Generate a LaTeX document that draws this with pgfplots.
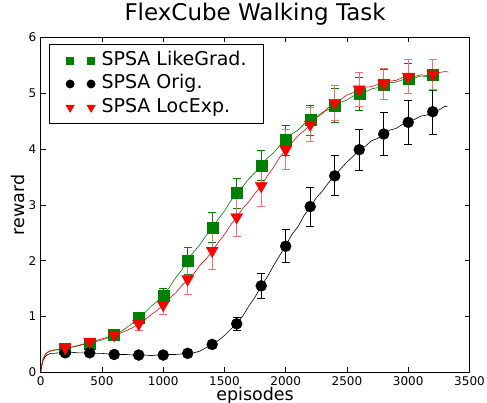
\documentclass[border=0pt]{standalone}
\usepackage{fontspec}
\setmainfont{DejaVu Sans}
\usepackage{pgfplots}
\pgfplotsset{compat=1.18}
\usetikzlibrary{calc}

\definecolor{mgreen}{RGB}{0,128,0}
\definecolor{mred}{RGB}{255,0,0}
\definecolor{lred}{RGB}{255,110,110}

\begin{document}
\begin{tikzpicture}
\begin{axis}[
  scale only axis, width=429pt, height=335pt,
  xmin=0, xmax=3500, ymin=0, ymax=6,
  xtick={0,500,...,3500}, ytick={0,1,...,6},
  /pgf/number format/1000 sep={},
  /pgf/number format/assume math mode=true,
  tick label style={font=\fontsize{12}{14}\selectfont},
  xticklabel style={yshift=-1pt},
  yticklabel style={xshift=-1pt},
  tick align=inside, major tick length=5pt,
  tick style={black, line width=0.6pt},
  axis line style={black, line width=0.9pt},
  title={FlexCube Walking Task},
  title style={font=\fontsize{23}{26}\selectfont, at={(axis description cs:0.5,1.032)}, anchor=base, inner sep=0pt},
  xlabel={episodes},
  xlabel style={font=\fontsize{17.5}{20}\selectfont, at={(axis description cs:0.5,-0.045)}, anchor=north, inner sep=0pt},
  ylabel={reward},
  ylabel style={font=\fontsize{17.5}{20}\selectfont, at={(axis description cs:-0.0366,0.5)}, anchor=base, inner sep=0pt},
  legend style={at={(0.019,0.981)}, anchor=north west, draw=black, line width=0.8pt,
    font=\fontsize{19}{22}\selectfont, inner xsep=2pt, inner ysep=4.5pt,
    nodes={text height=14pt, text depth=4.5pt, inner ysep=2.5pt}},
  legend cell align=left,
]
% noisy running curves
\addplot[mgreen, line width=0.6pt, forget plot] coordinates {
(0,0) (8,0.12) (20,0.24) (40,0.32) (60,0.36) (80,0.38) (100,0.39) (150,0.41) (200,0.43) (250,0.45)
(300,0.47) (350,0.50) (400,0.52) (450,0.55) (500,0.58) (550,0.62) (600,0.67) (650,0.72) (700,0.80)
(750,0.88) (800,0.98) (850,1.07) (900,1.18) (950,1.27) (1000,1.38) (1050,1.52) (1100,1.69) (1150,1.83)
(1200,2.01) (1250,2.16) (1300,2.29) (1350,2.45) (1400,2.59) (1450,2.75) (1500,2.89) (1550,3.07)
(1600,3.21) (1650,3.33) (1700,3.47) (1750,3.58) (1800,3.71) (1850,3.84) (1900,3.93) (1950,4.06)
(2000,4.16) (2050,4.27) (2100,4.34) (2150,4.45) (2200,4.52) (2250,4.57) (2300,4.66) (2350,4.71)
(2400,4.79) (2450,4.84) (2500,4.88) (2550,4.95) (2600,4.99) (2650,5.02) (2700,5.08) (2750,5.10)
(2800,5.15) (2850,5.19) (2900,5.20) (2950,5.24) (3000,5.26) (3050,5.27) (3100,5.31) (3150,5.30)
(3200,5.33) (3250,5.36)};
\addplot[black, line width=0.6pt, forget plot] coordinates {
(0,0) (8,0.11) (20,0.22) (40,0.29) (60,0.32) (80,0.34) (100,0.34) (150,0.35) (200,0.35) (250,0.36)
(300,0.35) (350,0.35) (400,0.35) (450,0.34) (500,0.34) (550,0.33) (600,0.33) (650,0.32) (700,0.32)
(750,0.31) (800,0.31) (850,0.31) (900,0.30) (950,0.31) (1000,0.31) (1050,0.32) (1100,0.32) (1150,0.33)
(1200,0.34) (1250,0.35) (1300,0.38) (1350,0.44) (1400,0.50) (1450,0.57) (1500,0.66) (1550,0.77)
(1600,0.87) (1650,1.01) (1700,1.19) (1750,1.35) (1800,1.55) (1850,1.71) (1900,1.91) (1950,2.09)
(2000,2.27) (2050,2.47) (2100,2.61) (2150,2.81) (2200,2.96) (2250,3.13) (2300,3.25) (2350,3.40)
(2400,3.52) (2450,3.65) (2500,3.77) (2550,3.87) (2600,3.99) (2650,4.05) (2700,4.15) (2750,4.19)
(2800,4.27) (2850,4.34) (2900,4.37) (2950,4.44) (3000,4.48) (3050,4.53) (3100,4.59) (3150,4.61)
(3200,4.67) (3250,4.70) (3300,4.77) (3320,4.76)};
\addplot[mred, line width=0.6pt, forget plot] coordinates {
(0,0) (8,0.13) (20,0.25) (40,0.33) (60,0.37) (80,0.39) (100,0.40) (150,0.41) (200,0.43) (250,0.45)
(300,0.48) (350,0.51) (400,0.54) (450,0.57) (500,0.60) (550,0.63) (600,0.67) (650,0.70) (700,0.75)
(750,0.80) (800,0.87) (850,0.94) (900,1.03) (950,1.11) (1000,1.21) (1050,1.32) (1100,1.42) (1150,1.55)
(1200,1.66) (1250,1.77) (1300,1.92) (1350,2.03) (1400,2.17) (1450,2.33) (1500,2.47) (1550,2.64)
(1600,2.78) (1650,2.94) (1700,3.06) (1750,3.21) (1800,3.34) (1850,3.52) (1900,3.67) (1950,3.85)
(2000,3.99) (2050,4.11) (2100,4.24) (2150,4.33) (2200,4.44) (2250,4.56) (2300,4.64) (2350,4.75)
(2400,4.83) (2450,4.89) (2500,4.97) (2550,5.01) (2600,5.07) (2650,5.11) (2700,5.12) (2750,5.16)
(2800,5.17) (2850,5.22) (2900,5.23) (2950,5.28) (3000,5.30) (3050,5.30) (3100,5.33) (3150,5.32)
(3200,5.34) (3250,5.37) (3300,5.39) (3330,5.38)};

% markers with error bars
\addplot[only marks, mark=square*, mgreen, mark size=5.5pt,
  legend image code/.code={\path (-6.5pt,0pt) (41pt,0pt); \draw[mark size=3.5pt] plot[only marks] coordinates {(12pt,0pt) (33pt,0pt)};},
  error bars/.cd, y dir=both, y explicit,
  error bar style={mgreen, line width=1pt},
  error mark options={mgreen, mark size=4pt, line width=1pt, rotate=90}]
coordinates {
(200,0.43) +- (0,0.04) (400,0.52) +- (0,0.05) (600,0.67) +- (0,0.06) (800,0.98) +- (0,0.08)
(1000,1.37) +- (0,0.14) (1200,2.00) +- (0,0.24) (1400,2.59) +- (0,0.27) (1600,3.21) +- (0,0.27)
(1800,3.70) +- (0,0.27) (2000,4.16) +- (0,0.27) (2200,4.52) +- (0,0.27) (2400,4.78) +- (0,0.30)
(2600,4.99) +- (0,0.30) (2800,5.15) +- (0,0.27) (3000,5.26) +- (0,0.27) (3200,5.33) +- (0,0.28)};
\addlegendentry{SPSA LikeGrad.\kern13pt}
\addplot[only marks, mark=*, black, mark size=5.5pt,
  legend image code/.code={\path (-6.5pt,0pt) (41pt,0pt); \draw[mark size=4pt] plot[only marks] coordinates {(12pt,0pt) (33pt,0pt)};},
  error bars/.cd, y dir=both, y explicit,
  error bar style={black, line width=1pt},
  error mark options={black, mark size=4pt, line width=1pt, rotate=90}]
coordinates {
(200,0.35) +- (0,0.03) (400,0.35) +- (0,0.03) (600,0.32) +- (0,0.03) (800,0.31) +- (0,0.03)
(1000,0.31) +- (0,0.03) (1200,0.34) +- (0,0.03) (1400,0.50) +- (0,0.05) (1600,0.87) +- (0,0.12)
(1800,1.55) +- (0,0.22) (2000,2.26) +- (0,0.30) (2200,2.97) +- (0,0.35) (2400,3.52) +- (0,0.36)
(2600,3.99) +- (0,0.37) (2800,4.27) +- (0,0.39) (3000,4.48) +- (0,0.39) (3200,4.67) +- (0,0.40)};
\addlegendentry{SPSA Orig.}
\addplot[only marks, mark=triangle*, mark options={rotate=180}, mred, mark size=6.9pt,
  legend image code/.code={\path (-6.5pt,0pt) (41pt,0pt); \draw[mark size=4.6pt] plot[only marks] coordinates {(12pt,0pt) (33pt,0pt)};},
  error bars/.cd, y dir=both, y explicit,
  error bar style={lred, line width=1pt},
  error mark options={lred, mark size=4pt, line width=1pt, rotate=90}]
coordinates {
(200,0.44) +- (0,0.04) (400,0.55) +- (0,0.06) (600,0.67) +- (0,0.07) (800,0.87) +- (0,0.12)
(1000,1.21) +- (0,0.17) (1200,1.67) +- (0,0.27) (1400,2.18) +- (0,0.33) (1600,2.78) +- (0,0.35)
(1800,3.34) +- (0,0.36) (2000,3.99) +- (0,0.36) (2200,4.44) +- (0,0.31) (2400,4.83) +- (0,0.31)
(2600,5.07) +- (0,0.30) (2800,5.17) +- (0,0.28) (3000,5.30) +- (0,0.30) (3200,5.34) +- (0,0.27)};
\addlegendentry{SPSA LocExp.}
\end{axis}
\pgfresetboundingbox
\path[use as bounding box] ($(current axis.south west)+(-40.7pt,-30.5pt)$) rectangle ($(current axis.north east)+(17.5pt,37.5pt)$);
\end{tikzpicture}
\end{document}
